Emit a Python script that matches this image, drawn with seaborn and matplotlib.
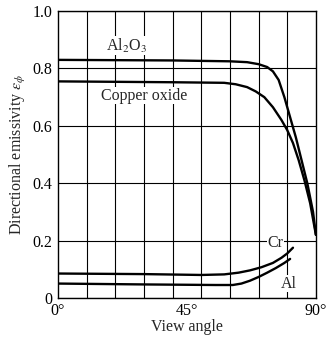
import numpy as np
import pandas as pd
import seaborn as sns
import matplotlib.pyplot as plt

sns.set_theme(style="ticks")
plt.rcParams['font.family'] = ['Liberation Serif', 'DejaVu Serif']
plt.rcParams['mathtext.fontset'] = 'stix'

# values
al2o3_x = [0, 40, 60, 66, 70, 73, 75, 77, 79, 81, 83, 85, 87, 89, 90]
al2o3_y = [0.83, 0.828, 0.825, 0.822, 0.815, 0.805, 0.79, 0.76, 0.70, 0.63, 0.56, 0.48, 0.40, 0.30, 0.22]
cuox_x = [0, 40, 58, 62, 66, 69, 72, 75, 78, 80, 82, 84, 86, 88, 90]
cuox_y = [0.755, 0.752, 0.75, 0.745, 0.735, 0.72, 0.70, 0.665, 0.62, 0.585, 0.54, 0.48, 0.41, 0.33, 0.22]
cr_x = [0, 30, 50, 58, 63, 67, 71, 75, 78, 80, 82]
cr_y = [0.085, 0.083, 0.08, 0.082, 0.088, 0.096, 0.107, 0.122, 0.14, 0.155, 0.175]
al_x = [0, 30, 55, 61, 64, 67, 70, 73, 76, 79, 81]
al_y = [0.05, 0.047, 0.045, 0.045, 0.05, 0.06, 0.073, 0.088, 0.104, 0.122, 0.136]

series = {
    'Al2O3': (al2o3_x, al2o3_y),
    'Copper oxide': (cuox_x, cuox_y),
    'Cr': (cr_x, cr_y),
    'Al': (al_x, al_y),
}

fig = plt.figure(figsize=(3.26, 3.37), dpi=100)
ax = fig.add_axes([0.178, 0.116, 0.791, 0.851])

for name, (xs, ys) in series.items():
    sns.lineplot(x=xs, y=ys, ax=ax, color='black', lw=1.7, sort=False)

ax.set_xlim(0, 90)
ax.set_ylim(0, 1.0)
ax.set_xticks(np.arange(0, 91, 10), minor=True)
ax.set_yticks([0, 0.2, 0.4, 0.6, 0.8, 1.0])
ax.set_yticklabels(['0', '0.2', '0.4', '0.6', '0.8', '1.0'])
ax.set_xticks([0, 45, 90])
ax.set_xticklabels(['0°', '45°', '90°'])
ax.grid(False)
ax.grid(True, which='minor', axis='x', color='black', lw=0.8)
ax.grid(True, which='major', axis='y', color='black', lw=0.8)
ax.tick_params(which='both', length=0, labelsize=11.5, colors='black')
ax.tick_params(axis='y', pad=4)
ax.tick_params(axis='x', pad=4)
for s in ax.spines.values():
    s.set_color('black')
    s.set_linewidth(1.0)

ax.set_xlabel('View angle', fontsize=11.5, labelpad=0)
ax.set_ylabel(r'Directional emissivity $\varepsilon_\phi$', fontsize=11.5, labelpad=3)

box = dict(fc='white', ec='none', pad=0.5)
ax.text(24, 0.88, r'Al$_2$O$_3$', fontsize=11.5, ha='center', va='center', bbox=box)
ax.text(30, 0.705, 'Copper oxide', fontsize=11.5, ha='center', va='center', bbox=box)
ax.text(76, 0.19, 'Cr', fontsize=11.5, ha='center', va='center', bbox=box)
ax.text(80.5, 0.05, 'Al', fontsize=11.5, ha='center', va='center', bbox=box)

fig.savefig('out.png', dpi=100, facecolor='white')
